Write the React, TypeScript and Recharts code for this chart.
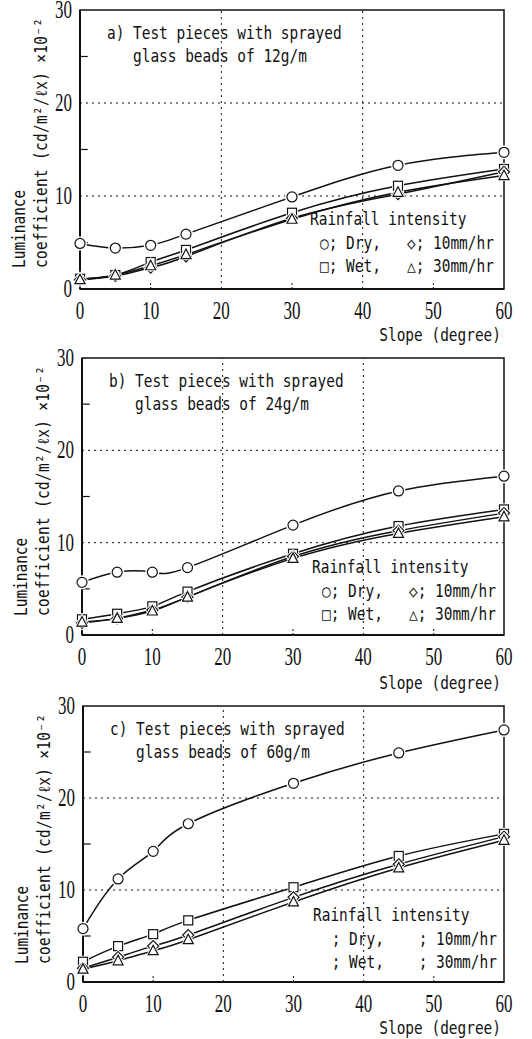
import React from 'react';
import { LineChart, Line, XAxis, YAxis, ReferenceLine, ReferenceArea } from 'recharts';

// slope angles (degree)
const slopes = [0, 5, 10, 15, 30, 45, 60];
const xTicks = [0, 10, 20, 30, 40, 50, 60];
const yTicks = [0, 10, 20, 30];

// a) 12g/m
const dryA = [4.9, 4.4, 4.7, 5.9, 9.9, 13.3, 14.7];
const wetA = [1.1, 1.5, 2.9, 4.2, 8.2, 11.1, 12.9];
const mm10A = [1.0, 1.4, 2.3, 3.5, 7.6, 10.2, 12.6];
const mm30A = [1.0, 1.5, 2.5, 3.7, 7.5, 10.4, 12.2];

// b) 24g/m
const dryB = [5.7, 6.8, 6.8, 7.3, 11.9, 15.6, 17.2];
const wetB = [1.7, 2.3, 3.1, 4.7, 8.8, 11.8, 13.6];
const mm10B = [1.3, 1.8, 2.7, 4.1, 8.5, 11.3, 13.2];
const mm30B = [1.4, 1.8, 2.6, 4.1, 8.3, 11.0, 12.8];

// c) 60g/m
const dryC = [5.8, 11.2, 14.2, 17.2, 21.6, 24.9, 27.4];
const wetC = [2.2, 3.9, 5.2, 6.7, 10.3, 13.7, 16.1];
const mm10C = [1.5, 2.7, 3.9, 5.1, 9.2, 12.8, 15.8];
const mm30C = [1.4, 2.3, 3.4, 4.6, 8.7, 12.4, 15.4];

const panelLabels = ['a)', 'b)', 'c)'];
const beadAmounts = ['12g/m', '24g/m', '60g/m'];

const legendTitle = 'Rainfall intensity';
const legendRows = [
  ['○; Dry,   ◇; 10mm/hr', '□; Wet,   △; 30mm/hr'],
  ['○; Dry,   ◇; 10mm/hr', '□; Wet,   △; 30mm/hr'],
  [' ; Dry,    ; 10mm/hr', ' ; Wet,    ; 30mm/hr']
];

const buildRows = (dry: number[], wet: number[], mm10: number[], mm30: number[]) =>
  slopes.map((s, i) => ({ slope: s, dry: dry[i], wet: wet[i], mm10: mm10[i], mm30: mm30[i] }));

const panels = [
  { data: buildRows(dryA, wetA, mm10A, mm30A), top: 0, plotLeft: 80, plotH: 279, slopeY: 341 },
  { data: buildRows(dryB, wetB, mm10B, mm30B), top: 348, plotLeft: 82, plotH: 277, slopeY: 341 },
  { data: buildRows(dryC, wetC, mm10C, mm30C), top: 696, plotLeft: 83, plotH: 276, slopeY: 338 }
];

const CHART_W = 532;
const PAD = 12; // extra room above each plot so top tick labels are not clipped
const CHART_H = 345 + PAD;
const PLOT_TOP = 10 + PAD;
const PLOT_RIGHT = 504;
const Y_AXIS_W = 70;

const MONO = "'DejaVu Sans Mono', monospace";
const INK = '#111';

const MonoText = ({ x, y, children, anchor = 'start', rotate = false, length }: any) => (
  <text
    transform={`translate(${x},${y + PAD})${rotate ? ' rotate(-90)' : ''} scale(0.85,1)`}
    fontFamily={MONO}
    fontSize={17}
    fill={INK}
    textAnchor={anchor}
    style={{ whiteSpace: 'pre' }}
    textLength={length ? length / 0.85 : undefined}
    lengthAdjust={length ? 'spacing' : undefined}
  >
    {children}
  </text>
);

const XTick = ({ x, y, payload }: any) => (
  <text
    transform={`translate(${x},${y + 30}) scale(0.68,1)`}
    fontFamily="'Liberation Serif', serif"
    fontSize={25}
    fill={INK}
    textAnchor="middle"
  >
    {payload.value}
  </text>
);

const YTick = ({ x, y, payload }: any) => (
  <text
    transform={`translate(${x - 8},${y + 8}) scale(0.68,1)`}
    fontFamily="'Liberation Serif', serif"
    fontSize={25}
    fill={INK}
    textAnchor="end"
  >
    {payload.value}
  </text>
);

const CircleDot = ({ cx, cy }: any) => (
  <g>
    <circle cx={cx} cy={cy} r={5} fill="#fff" stroke="#fff" strokeWidth={4} />
    <circle cx={cx} cy={cy} r={5} fill="#fff" stroke={INK} strokeWidth={1.2} />
  </g>
);

const SquareDot = ({ cx, cy }: any) => (
  <g>
    <rect x={cx - 4.5} y={cy - 4.5} width={9} height={9} fill="#fff" stroke="#fff" strokeWidth={3} />
    <rect x={cx - 4.5} y={cy - 4.5} width={9} height={9} fill="#fff" stroke={INK} strokeWidth={1.2} />
  </g>
);

const DiamondDot = ({ cx, cy }: any) => {
  const pts = `${cx},${cy - 5.5} ${cx + 5.5},${cy} ${cx},${cy + 5.5} ${cx - 5.5},${cy}`;
  return (
    <g>
      <polygon points={pts} fill="#fff" stroke="#fff" strokeWidth={3} />
      <polygon points={pts} fill="#fff" stroke={INK} strokeWidth={1.2} />
    </g>
  );
};

const TriangleDot = ({ cx, cy }: any) => {
  const pts = `${cx},${cy - 5.5} ${cx + 5},${cy + 4} ${cx - 5},${cy + 4}`;
  return (
    <g>
      <polygon points={pts} fill="#fff" stroke="#fff" strokeWidth={3} />
      <polygon points={pts} fill="#fff" stroke={INK} strokeWidth={1.2} />
    </g>
  );
};

const series = [
  { key: 'dry', Dot: CircleDot },
  { key: 'wet', Dot: SquareDot },
  { key: 'mm10', Dot: DiamondDot },
  { key: 'mm30', Dot: TriangleDot }
];

const Panel = ({ idx }: { idx: number }) => {
  const p = panels[idx];
  const L = p.plotLeft;
  return (
    <div style={{ position: 'absolute', left: 0, top: p.top - PAD, width: CHART_W, height: CHART_H }}>
      <LineChart
        width={CHART_W}
        height={CHART_H}
        data={p.data}
        margin={{ top: PLOT_TOP, right: CHART_W - PLOT_RIGHT, left: L - Y_AXIS_W, bottom: 0 }}
      >
        <XAxis
          dataKey="slope"
          type="number"
          domain={[0, 60]}
          ticks={xTicks}
          tick={<XTick />}
          tickLine={false}
          tickSize={0}
          tickMargin={0}
          height={CHART_H - PLOT_TOP - p.plotH}
          axisLine={{ stroke: INK, strokeWidth: 2 }}
        />
        <YAxis
          type="number"
          domain={[0, 30]}
          ticks={yTicks}
          tick={<YTick />}
          tickLine={false}
          tickSize={0}
          tickMargin={0}
          width={Y_AXIS_W}
          axisLine={{ stroke: INK, strokeWidth: 2 }}
        />
        <ReferenceArea x1={0} x2={60} y1={0} y2={30} fill="none" stroke={INK} strokeWidth={1.5} />
        {[10, 20].map((v) => (
          <ReferenceLine key={`h${v}`} y={v} stroke={INK} strokeWidth={1} strokeDasharray="2 4" />
        ))}
        {[20, 40].map((v) => (
          <ReferenceLine key={`v${v}`} x={v} stroke={INK} strokeWidth={1} strokeDasharray="2 4" />
        ))}
        {[5, 15, 25].map((v) => (
          <ReferenceLine key={`my${v}`} segment={[{ x: 0, y: v }, { x: 1.1, y: v }]} stroke={INK} strokeWidth={1.2} />
        ))}
        {[10, 30, 50].map((v) => (
          <ReferenceLine key={`mx${v}`} segment={[{ x: v, y: 0 }, { x: v, y: 0.7 }]} stroke={INK} strokeWidth={1} strokeDasharray="2 2" />
        ))}
        {series.map((s) => (
          <Line
            key={s.key}
            dataKey={s.key}
            type="natural"
            stroke={INK}
            strokeWidth={1.5}
            isAnimationActive={false}
            dot={(props: any) => <s.Dot key={`${s.key}-${props.index}`} {...props} />}
            activeDot={false}
          />
        ))}
        <MonoText x={L + 27} y={39}>{panelLabels[idx]}</MonoText>
        <MonoText x={L + 53} y={39}>Test pieces with sprayed</MonoText>
        <MonoText x={L + 53} y={62}>{`glass beads of ${beadAmounts[idx]}`}</MonoText>
        <MonoText x={L + 230} y={225}>{legendTitle}</MonoText>
        <MonoText x={L + 240} y={249}>{legendRows[idx][0]}</MonoText>
        <MonoText x={L + 240} y={272}>{legendRows[idx][1]}</MonoText>
        <MonoText x={L - 55} y={268} rotate>Luminance</MonoText>
        <MonoText x={L - 33} y={268} rotate length={250}>coefficient (cd/m²/ℓx) ×10⁻²</MonoText>
        <MonoText x={PLOT_RIGHT - 3} y={p.slopeY} anchor="end">Slope (degree)</MonoText>
      </LineChart>
    </div>
  );
};

export default function App() {
  return (
    <div style={{ position: 'absolute', left: 0, top: 0, width: 532, height: 1039, background: '#fff', overflow: 'hidden' }}>
      <Panel idx={0} />
      <Panel idx={1} />
      <Panel idx={2} />
    </div>
  );
}
